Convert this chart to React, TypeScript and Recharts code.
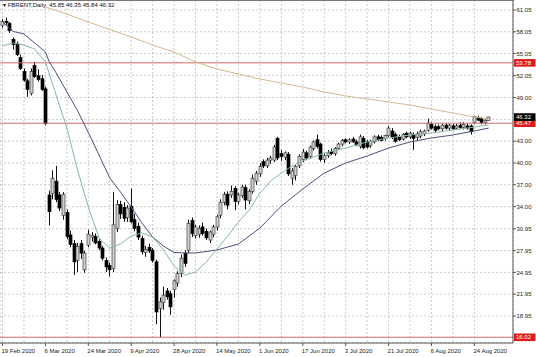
import React from 'react';
import { ComposedChart, Bar, Line, XAxis, YAxis, CartesianGrid, ReferenceLine } from 'recharts';

const tickLabels = ['19 Feb 2020', '6 Mar 2020', '24 Mar 2020', '9 Apr 2020', '28 Apr 2020', '14 May 2020', '1 Jun 2020', '17 Jun 2020', '3 Jul 2020', '21 Jul 2020', '6 Aug 2020', '24 Aug 2020'];
const labelEvery = 12;
const gridEvery = 6;

const opens = [58.9, 59.5, 59.2, 57.0, 56.4, 54.5, 52.6, 51.3, 49.6, 53.4, 52.0, 51.6, 50.2, 35.6, 35.8, 37.5, 35.6, 32.8, 33.2, 30.1, 28.9, 26.6, 28.9, 25.3, 28.7, 29.8, 29.9, 29.2, 28.3, 26.6, 25.9, 25.5, 31.0, 34.3, 33.9, 32.5, 34.0, 32.2, 31.3, 29.6, 27.7, 28.4, 28.0, 26.4, 20.0, 20.8, 22.4, 22.0, 22.6, 23.5, 24.8, 27.6, 28.0, 32.1, 30.0, 30.2, 31.2, 30.6, 29.4, 30.2, 31.2, 32.8, 34.6, 35.7, 35.6, 36.5, 34.7, 35.5, 36.6, 34.8, 36.1, 37.5, 38.5, 40.2, 39.6, 40.4, 40.4, 43.4, 41.3, 40.8, 41.2, 37.9, 38.3, 39.6, 40.5, 41.4, 40.9, 42.0, 43.2, 42.6, 40.5, 41.0, 41.6, 41.3, 42.0, 42.6, 43.2, 42.9, 43.3, 42.9, 42.3, 43.4, 42.9, 42.4, 42.9, 43.6, 43.5, 43.4, 43.8, 44.4, 43.9, 43.6, 43.3, 44.1, 43.6, 43.9, 43.5, 43.7, 44.0, 44.5, 45.3, 45.0, 45.0, 44.7, 45.2, 44.8, 45.1, 44.8, 45.2, 44.9, 45.1, 45.1, 45.6, 46.2, 46.1, 45.6, 45.85];
const highs = [59.8, 60.0, 59.4, 57.3, 56.7, 54.9, 53.0, 51.6, 53.0, 53.9, 52.9, 52.1, 50.5, 36.2, 39.0, 39.6, 36.0, 36.0, 33.6, 30.7, 29.4, 29.0, 29.4, 27.9, 30.8, 30.5, 30.3, 29.5, 28.6, 27.0, 26.3, 36.0, 34.9, 34.8, 34.6, 34.2, 36.5, 33.0, 31.8, 30.0, 28.6, 28.9, 28.3, 26.7, 21.5, 23.0, 22.8, 22.4, 24.0, 25.1, 27.4, 28.0, 32.2, 32.5, 31.5, 31.4, 31.8, 31.0, 30.7, 31.5, 32.9, 35.0, 36.0, 36.1, 36.9, 36.8, 35.9, 37.0, 37.0, 36.4, 38.4, 38.9, 40.0, 40.5, 40.7, 41.0, 42.5, 43.6, 41.8, 41.6, 41.5, 39.3, 39.7, 41.2, 41.9, 41.7, 42.4, 43.1, 43.9, 42.8, 41.3, 41.8, 42.0, 42.2, 42.8, 43.3, 43.4, 43.4, 43.6, 43.2, 43.9, 43.7, 43.2, 43.2, 43.8, 43.9, 43.8, 43.9, 45.1, 44.8, 44.2, 43.9, 44.1, 44.3, 44.3, 44.2, 44.3, 44.6, 44.6, 46.1, 45.6, 45.3, 45.3, 45.4, 45.5, 45.4, 45.4, 45.4, 45.6, 45.6, 45.5, 45.3, 46.5, 46.5, 46.3, 46.0, 46.35];
const lows = [58.6, 59.0, 57.9, 55.6, 54.7, 52.8, 51.2, 49.1, 49.3, 51.7, 51.2, 49.9, 45.2, 31.4, 35.0, 34.6, 33.4, 32.2, 29.5, 28.4, 24.6, 25.0, 26.8, 24.9, 28.4, 29.2, 28.8, 28.0, 26.6, 25.0, 24.4, 25.0, 30.5, 32.3, 31.9, 31.9, 31.7, 30.6, 29.4, 27.4, 27.1, 27.6, 26.3, 17.8, 16.02, 19.8, 21.2, 19.1, 21.5, 23.0, 24.3, 25.7, 27.6, 29.8, 29.6, 29.7, 30.0, 29.4, 29.0, 29.8, 30.7, 32.4, 34.2, 33.6, 35.2, 33.5, 34.3, 35.2, 33.6, 34.3, 35.8, 37.0, 38.1, 39.3, 39.3, 39.9, 40.1, 40.4, 40.3, 40.4, 38.2, 37.0, 37.6, 39.3, 40.1, 40.4, 40.6, 41.7, 42.0, 40.2, 40.0, 40.7, 41.1, 41.0, 41.8, 42.3, 42.7, 42.6, 42.8, 42.3, 42.0, 41.9, 42.0, 42.1, 42.7, 43.0, 43.0, 43.1, 43.6, 43.3, 42.8, 43.0, 43.1, 43.4, 43.3, 41.8, 43.1, 43.4, 43.7, 44.3, 44.6, 44.2, 44.5, 44.4, 44.6, 44.5, 44.5, 44.6, 44.7, 44.6, 44.6, 43.9, 45.4, 45.8, 45.3, 45.3, 45.84];
const closes = [59.5, 59.3, 58.2, 56.3, 54.9, 53.0, 51.4, 50.1, 52.6, 51.9, 51.5, 50.1, 45.4, 33.3, 37.9, 35.0, 33.8, 35.7, 29.9, 28.8, 26.4, 28.5, 27.6, 27.6, 30.2, 30.0, 29.0, 28.3, 26.9, 25.7, 25.3, 31.5, 34.3, 33.0, 32.4, 33.8, 31.9, 31.0, 29.8, 27.8, 28.1, 27.9, 26.6, 19.5, 20.9, 21.8, 21.6, 20.2, 23.8, 24.8, 26.9, 26.2, 31.7, 30.3, 31.2, 31.0, 30.3, 29.7, 30.5, 31.2, 32.6, 34.6, 35.7, 34.2, 36.1, 34.7, 35.6, 36.7, 34.9, 36.1, 37.9, 38.6, 39.5, 39.6, 40.4, 40.7, 42.2, 40.7, 40.9, 41.4, 38.5, 38.9, 39.5, 40.9, 41.5, 40.7, 42.2, 42.9, 42.3, 40.5, 41.0, 41.4, 41.3, 42.0, 42.6, 43.1, 42.9, 43.2, 42.9, 42.5, 43.6, 42.1, 42.2, 43.0, 43.6, 43.2, 43.1, 43.8, 44.8, 43.5, 43.0, 43.2, 43.9, 43.6, 44.1, 43.4, 44.0, 44.3, 44.4, 45.5, 44.8, 44.5, 44.7, 45.2, 44.8, 45.2, 44.7, 45.1, 44.9, 45.3, 44.8, 44.3, 46.4, 45.9, 45.6, 45.85, 46.32];

const fastMA: [number, number][] = [[0, 56.1], [3, 56.51], [6, 56.23], [9, 55.68], [12, 53.9], [15, 49.35], [18, 44.81], [21, 39.04], [24, 33.94], [27, 29.68], [30, 28.3], [33, 28.85], [36, 29.95], [39, 30.37], [42, 29.82], [45, 28.03], [48, 25.83], [51, 24.59], [54, 25.0], [57, 26.38], [60, 28.17], [63, 29.95], [66, 31.88], [69, 33.53], [72, 35.87], [75, 37.52], [78, 38.62], [81, 39.59], [84, 40.27], [87, 40.82], [90, 41.38], [96, 42.06], [102, 42.89], [108, 43.44], [114, 43.85], [120, 44.13], [126, 44.54], [132, 44.95], [136, 45.23]];
const slowMA: [number, number][] = [[0, 59.4], [3, 58.1], [6, 57.75], [9, 56.5], [12, 55.3], [13, 54.0], [15, 52.4], [18, 49.8], [21, 47.2], [24, 44.2], [27, 41.1], [30, 37.94], [33, 36.0], [36, 33.95], [39, 31.74], [42, 29.82], [45, 28.58], [48, 27.69], [51, 27.62], [54, 27.62], [60, 28.03], [66, 28.85], [72, 31.05], [78, 34.08], [84, 36.42], [90, 38.62], [96, 40.0], [102, 40.96], [108, 42.06], [114, 42.89], [120, 43.44], [126, 43.85], [132, 44.4], [136, 44.81]];
const longMA: [number, number][] = [[12, 61.46], [18, 60.5], [24, 59.4], [30, 58.37], [36, 57.34], [42, 56.23], [48, 55.27], [54, 53.9], [60, 52.93], [66, 52.24], [72, 51.56], [78, 51.0], [84, 50.46], [90, 49.77], [96, 49.22], [102, 48.81], [108, 48.39], [114, 47.98], [120, 47.43], [126, 46.88], [132, 46.33], [136, 46.05]];

const priceTicks = [61.05, 58.05, 55.05, 52.05, 49.0, 46.0, 43.0, 40.0, 37.0, 34.0, 30.95, 27.95, 24.95, 21.95, 18.95];
const hiddenTickLabels = [46.0];
const levels = [53.78, 45.47, 16.02];
const lastPrice = 46.32;
const title = 'FBRENT,Daily  45.85 46.35 45.84 46.32';

type Row = { i: number; o: number; h: number; l: number; c: number; range: [number, number]; fast?: number; slow?: number; long?: number };
const data: Row[] = opens.map((o, i) => ({ i, o, h: highs[i], l: lows[i], c: closes[i], range: [lows[i], highs[i]] }));
fastMA.forEach(([i, v]) => { data[i].fast = v; });
slowMA.forEach(([i, v]) => { data[i].slow = v; });
longMA.forEach(([i, v]) => { data[i].long = v; });

const xTicks: number[] = [];
for (let k = 0; k <= 132; k += gridEvery) xTicks.push(k);

const FONT = '"Liberation Sans", Arial, sans-serif';

const Candle = (props: any) => {
  const { x, y, width, height, payload } = props;
  if (!payload) return null;
  const { o, h, l, c } = payload;
  const top0 = Math.min(y, y + height);
  const H = Math.abs(height);
  const cx = Math.round(x + width / 2) + 0.5;
  const ppu = H / (h - l || 1);
  const bTop = top0 + (h - Math.max(o, c)) * ppu;
  const bBot = top0 + (h - Math.min(o, c)) * ppu;
  const bull = c >= o;
  return (
    <g>
      <line x1={cx} x2={cx} y1={top0} y2={top0 + H} stroke="#111" strokeWidth={1} />
      <rect x={cx - 1.5} y={bTop} width={3} height={Math.max(bBot - bTop, 0.8)} fill={bull ? '#cfcfcf' : '#000'} stroke={bull ? '#444' : '#000'} strokeWidth={0.7} />
    </g>
  );
};

const XTick = (props: any) => {
  const { x, y, payload } = props;
  const idx = payload.value as number;
  if (idx % labelEvery !== 0) return null;
  const label = tickLabels[idx / labelEvery];
  return (
    <g>
      <line x1={x} x2={x} y1={y} y2={y + 3} stroke="#555" strokeWidth={1} />
      <text x={x - 1} y={y + 9.5} fontSize={6} fontFamily={FONT} fill="#222" textAnchor="start">{label}</text>
    </g>
  );
};

const YTick = (props: any) => {
  const { x, y, payload } = props;
  const v = payload.value as number;
  if (hiddenTickLabels.includes(v)) return null;
  return (
    <g>
      <line x1={x} x2={x + 3} y1={y} y2={y} stroke="#555" strokeWidth={1} />
      <text x={x + 3.5} y={y + 2.2} fontSize={6} fontFamily={FONT} fill="#222" textAnchor="start">{v.toFixed(2)}</text>
    </g>
  );
};

const PriceTag = (props: any) => {
  const { viewBox, text, bg } = props;
  if (!viewBox) return null;
  const x0 = viewBox.x + viewBox.width + 1;
  const yc = viewBox.y;
  return (
    <g>
      <rect x={x0} y={yc - 3.8} width={21.5} height={7.6} fill={bg} />
      <text x={x0 + 2} y={yc + 2.2} fontSize={6} fontFamily={FONT} fill="#fff">{text}</text>
    </g>
  );
};

export default function App() {
  return (
    <div style={{ position: 'absolute', left: 0, top: 0, width: 536, height: 357, background: '#fff', overflow: 'hidden' }}>
      <ComposedChart width={536} height={357} data={data} margin={{ top: 0, right: 0, bottom: 0, left: 0 }}>
        <CartesianGrid stroke="#bdbdbd" strokeDasharray="2 2" strokeWidth={0.8} />
        <XAxis dataKey="i" type="number" domain={[-0.7, 142.8]} allowDataOverflow ticks={xTicks} interval={0} height={14} tickSize={0} tickMargin={0} tick={<XTick />} axisLine={{ stroke: '#555' }} tickLine={false} />
        <YAxis orientation="right" type="number" domain={[15.233, 62.426]} allowDataOverflow ticks={priceTicks} interval={0} width={23} tickSize={0} tickMargin={0} tick={<YTick />} axisLine={{ stroke: '#555' }} tickLine={false} />
        {levels.map((lv) => (
          <ReferenceLine key={lv} y={lv} stroke="#d46a6a" strokeWidth={1} label={<PriceTag text={lv.toFixed(2)} bg="#e01b1b" />} />
        ))}
        <ReferenceLine y={lastPrice} stroke="none" strokeOpacity={0} label={<PriceTag text={lastPrice.toFixed(2)} bg="#000" />} />
        <Bar dataKey="range" barSize={3} shape={<Candle />} isAnimationActive={false} />
        <Line dataKey="long" type="linear" stroke="#d6b890" strokeWidth={1} dot={false} connectNulls isAnimationActive={false} />
        <Line dataKey="slow" type="linear" stroke="#4e4e7e" strokeWidth={1} dot={false} connectNulls isAnimationActive={false} />
        <Line dataKey="fast" type="linear" stroke="#86b8a6" strokeWidth={1} dot={false} connectNulls isAnimationActive={false} />
      </ComposedChart>
      <div style={{ position: 'absolute', left: 0, top: 0, width: 514, height: 1, background: '#777' }} />
      <div style={{ position: 'absolute', left: 3, top: 1, fontFamily: FONT, fontSize: 6, color: '#111', whiteSpace: 'pre', lineHeight: '8px' }}>{'\u25BE ' + title}</div>
    </div>
  );
}
